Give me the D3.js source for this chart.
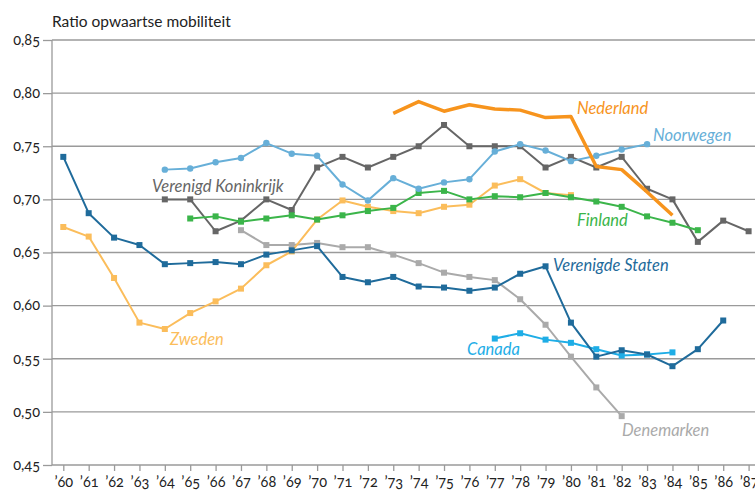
<!DOCTYPE html>
<html>
<head>
<meta charset="utf-8">
<script src="https://cdn.jsdelivr.net/npm/d3@7"></script>
<style>
  body { margin: 0; background: #fff; }
  svg text { font-family: Lato, "Open Sans", sans-serif; font-variant-numeric: oldstyle-nums; }
</style>
</head>
<body>
<div id="chart"></div>
<script>
// years on the x axis
const years = d3.range(1960, 1988);
const yTicks = [0.45, 0.50, 0.55, 0.60, 0.65, 0.70, 0.75, 0.80, 0.85];

// series values, first year given separately
const usStart = 1960;
const usValues = [0.740, 0.687, 0.664, 0.657, 0.639, 0.640, 0.641, 0.639, 0.648, 0.652, 0.656, 0.627, 0.622, 0.627, 0.618, 0.617, 0.614, 0.617, 0.630, 0.637, 0.584, 0.552, 0.558, 0.554, 0.543, 0.559, 0.586];
const seStart = 1960;
const seValues = [0.674, 0.665, 0.626, 0.584, 0.578, 0.593, 0.604, 0.616, 0.638, 0.651, 0.681, 0.699, 0.693, 0.689, 0.687, 0.693, 0.695, 0.713, 0.719, 0.706, 0.704];
const nlStart = 1973;
const nlValues = [0.781, 0.792, 0.783, 0.789, 0.785, 0.784, 0.777, 0.778, 0.731, 0.728, 0.707, 0.685];
const noStart = 1964;
const noValues = [0.728, 0.729, 0.735, 0.739, 0.753, 0.743, 0.741, 0.714, 0.699, 0.720, 0.710, 0.716, 0.719, 0.745, 0.752, 0.746, 0.736, 0.741, 0.747, 0.752];
const ukStart = 1964;
const ukValues = [0.700, 0.700, 0.670, 0.680, 0.700, 0.690, 0.730, 0.740, 0.730, 0.740, 0.750, 0.770, 0.750, 0.750, 0.750, 0.730, 0.740, 0.730, 0.740, 0.710, 0.700, 0.660, 0.680, 0.670];
const fiStart = 1965;
const fiValues = [0.682, 0.684, 0.679, 0.682, 0.685, 0.681, 0.685, 0.689, 0.692, 0.706, 0.708, 0.700, 0.703, 0.702, 0.706, 0.702, 0.698, 0.693, 0.684, 0.678, 0.671];
const dkStart = 1967;
const dkValues = [0.671, 0.657, 0.657, 0.659, 0.655, 0.655, 0.648, 0.640, 0.631, 0.627, 0.624, 0.606, 0.582, 0.552, 0.523, 0.496];
const caStart = 1977;
const caValues = [0.569, 0.574, 0.568, 0.565, 0.559, 0.553, 0.554, 0.556];

const series = [
  { name: "Denemarken", start: dkStart, values: dkValues, color: "#aaaaaa", marker: "square", width: 2, lx: 622, ly: 436 },
  { name: "Zweden", start: seStart, values: seValues, color: "#fbbd5b", marker: "square", width: 2, lx: 170, ly: 345 },
  { name: "Verenigd Koninkrijk", start: ukStart, values: ukValues, color: "#666666", marker: "square", width: 2, lx: 152, ly: 192 },
  { name: "Finland", start: fiStart, values: fiValues, color: "#3bb54a", marker: "square", width: 2, lx: 577, ly: 226 },
  { name: "Noorwegen", start: noStart, values: noValues, color: "#67afd8", marker: "circle", width: 2, lx: 653, ly: 141 },
  { name: "Canada", start: caStart, values: caValues, color: "#1eade6", marker: "square", width: 2, lx: 467, ly: 355 },
  { name: "Verenigde Staten", start: usStart, values: usValues, color: "#1f6b9b", marker: "square", width: 2, lx: 553, ly: 271 },
  { name: "Nederland", start: nlStart, values: nlValues, color: "#f7941d", marker: "none", width: 3.5, lx: 577, ly: 114 }
];

const width = 755, height = 491;
const plotLeft = 52, plotTop = 40, plotBottom = 465;

const svg = d3.select("#chart").append("svg")
  .attr("width", width)
  .attr("height", height);

const x = d3.scaleLinear().domain([1960, 1987]).range([63.3, 748.6]);
const y = d3.scaleLinear().domain([0.45, 0.85]).range([plotBottom, plotTop]);

// title
svg.append("text").attr("x", 52).attr("y", 27).attr("font-size", 15.5).attr("fill", "#222")
  .text("Ratio opwaartse mobiliteit");

// gridlines
svg.append("g").selectAll("line").data(yTicks.slice(1)).join("line")
  .attr("x1", plotLeft).attr("x2", width)
  .attr("y1", d => y(d)).attr("y2", d => y(d))
  .attr("stroke", "#9a9a9a").attr("stroke-width", 1.3);

// y axis
const yAxis = d3.axisLeft(y).tickValues(yTicks).tickSize(9).tickPadding(3)
  .tickFormat(d => d3.format(".2f")(d).replace(".", ","));
const yg = svg.append("g").attr("transform", `translate(${plotLeft},0)`).call(yAxis);
yg.select(".domain").attr("stroke", "#9a9a9a").attr("stroke-width", 1.3).attr("d", `M0,${plotTop}V${plotBottom}`);
yg.selectAll(".tick line").attr("stroke", "#9a9a9a").attr("stroke-width", 1.3);
yg.selectAll("text").attr("font-size", 14.5).attr("fill", "#222").attr("dy", "0.3em");

// x axis
const xAxis = d3.axisBottom(x).tickValues(years).tickSize(6).tickPadding(6)
  .tickFormat(d => "\u2019" + String(d).slice(2));
const xg = svg.append("g").attr("transform", `translate(0,${plotBottom})`).call(xAxis);
xg.select(".domain").attr("stroke", "#9a9a9a").attr("stroke-width", 1.3).attr("d", `M${plotLeft},0H${width}`);
xg.selectAll(".tick line").attr("stroke", "#9a9a9a").attr("stroke-width", 1.3);
xg.selectAll("text").attr("font-size", 14.5).attr("fill", "#222");

const line = d3.line().x(d => x(d.year)).y(d => y(d.value));

series.forEach(s => {
  const pts = s.values.map((v, i) => ({ year: s.start + i, value: v }));
  const g = svg.append("g");
  g.append("path").datum(pts).attr("d", line)
    .attr("fill", "none").attr("stroke", s.color).attr("stroke-width", s.width)
    .attr("stroke-linejoin", "round");
  if (s.marker === "square") {
    g.selectAll("rect").data(pts).join("rect")
      .attr("x", d => x(d.year) - 3).attr("y", d => y(d.value) - 3)
      .attr("width", 6).attr("height", 6).attr("fill", s.color);
  } else if (s.marker === "circle") {
    g.selectAll("circle").data(pts).join("circle")
      .attr("cx", d => x(d.year)).attr("cy", d => y(d.value)).attr("r", 3.2)
      .attr("fill", s.color);
  }
  svg.append("text").attr("x", s.lx).attr("y", s.ly)
    .attr("font-size", 16.5).attr("font-style", "italic").attr("fill", s.color)
    .text(s.name);
});
</script>
</body>
</html>
